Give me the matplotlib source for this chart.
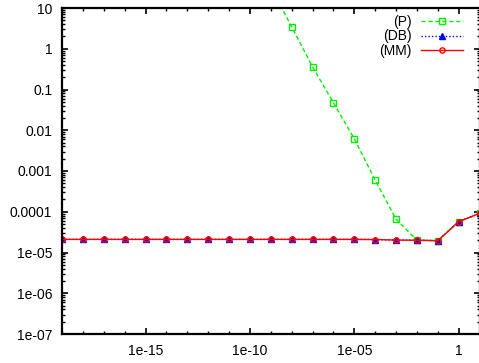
import matplotlib
matplotlib.use("Agg")
import matplotlib.pyplot as plt
import matplotlib.ticker as mticker
import numpy as np

# data
x_full = [1e-19, 1e-18, 1e-17, 1e-16, 1e-15, 1e-14, 1e-13, 1e-12, 1e-11, 1e-10,
          1e-9, 1e-8, 1e-7, 1e-6, 1e-5, 1e-4, 1e-3, 1e-2, 1e-1, 1e0, 1e1]
mm_vals = [2.1e-5, 2.1e-5, 2.1e-5, 2.1e-5, 2.1e-5, 2.1e-5, 2.1e-5, 2.1e-5, 2.1e-5, 2.1e-5,
           2.1e-5, 2.1e-5, 2.1e-5, 2.1e-5, 2.1e-5, 2.08e-5, 2.02e-5, 2.0e-5, 1.95e-5, 5.7e-5, 9.1e-5]
db_vals = list(mm_vals)
p_x = [1e-9, 1e-8, 1e-7, 1e-6, 1e-5, 1e-4, 1e-3, 1e-2, 1e-1, 1e0, 1e1]
p_vals = [33.0, 3.47, 0.363, 0.0474, 0.0062, 6.0e-4, 6.6e-5, 2.0e-5, 1.95e-5, 5.7e-5, 9.1e-5]
labels = ["(P)", "(DB)", "(MM)"]
xtick_vals = [1e-15, 1e-10, 1e-5, 1]
xtick_labels = ["1e-15", "1e-10", "1e-05", "1"]
ytick_vals = [1e-7, 1e-6, 1e-5, 1e-4, 1e-3, 1e-2, 1e-1, 1, 10]
ytick_labels = ["1e-07", "1e-06", "1e-05", "0.0001", "0.001", "0.01", "0.1", "1", "10"]

plt.rcParams['font.family'] = ['Liberation Sans', 'DejaVu Sans']
fig = plt.figure(figsize=(4.79, 3.63), dpi=100)
ax = fig.add_axes([62/479, 1-334/363, (479.5-62)/479, (334-8)/363])

ms = 3.8
ax.plot(p_x, p_vals, color='#00ee00', linestyle=(0, (3, 2)), linewidth=1.0,
        marker='s', markersize=ms, markerfacecolor='none', markeredgecolor='#00ee00',
        markeredgewidth=1.0, label=labels[0])
ax.plot(x_full, db_vals, color='#0000ff', linestyle=(0, (1, 1.5)), linewidth=1.0,
        marker='^', markersize=ms, markerfacecolor='#0000ff', markeredgecolor='#0000ff',
        label=labels[1])
ax.plot(x_full, mm_vals, color='#ff0000', linestyle='-', linewidth=1.0,
        marker='o', markersize=ms, markerfacecolor='none', markeredgecolor='#ff0000',
        markeredgewidth=1.0, label=labels[2])

ax.set_xscale('log')
ax.set_yscale('log')
ax.set_xlim(1e-19, 1e1)
ax.set_ylim(1e-7, 10)

ax.xaxis.set_major_locator(mticker.FixedLocator(xtick_vals))
ax.xaxis.set_minor_locator(mticker.FixedLocator([10.0**k for k in range(-19, 2)]))
ax.xaxis.set_minor_formatter(mticker.NullFormatter())
ax.set_xticklabels(xtick_labels)

ax.yaxis.set_major_locator(mticker.FixedLocator(ytick_vals))
ax.set_yticklabels(ytick_labels)
ax.yaxis.set_minor_locator(mticker.LogLocator(base=10, subs=[2, 3, 4, 5, 6, 7, 8, 9], numticks=20))
ax.yaxis.set_minor_formatter(mticker.NullFormatter())

ax.tick_params(which='both', direction='in', top=True, right=True, labelsize=10, color='black')
ax.tick_params(which='major', length=4, width=1.2)
ax.tick_params(which='minor', length=2, width=1.0)
ax.tick_params(axis='x', which='major', pad=7)
ax.tick_params(axis='y', which='major', pad=7)
for s in ax.spines.values():
    s.set_linewidth(1.6)

leg = ax.legend(loc='upper right', frameon=False, markerfirst=False, fontsize=10,
                handlelength=3.0, handletextpad=0.7, labelspacing=0.02,
                borderaxespad=0.3, bbox_to_anchor=(0.983, 1.008))
for t in leg.get_texts():
    t.set_ha('right')

fig.savefig("out.png", dpi=100)
